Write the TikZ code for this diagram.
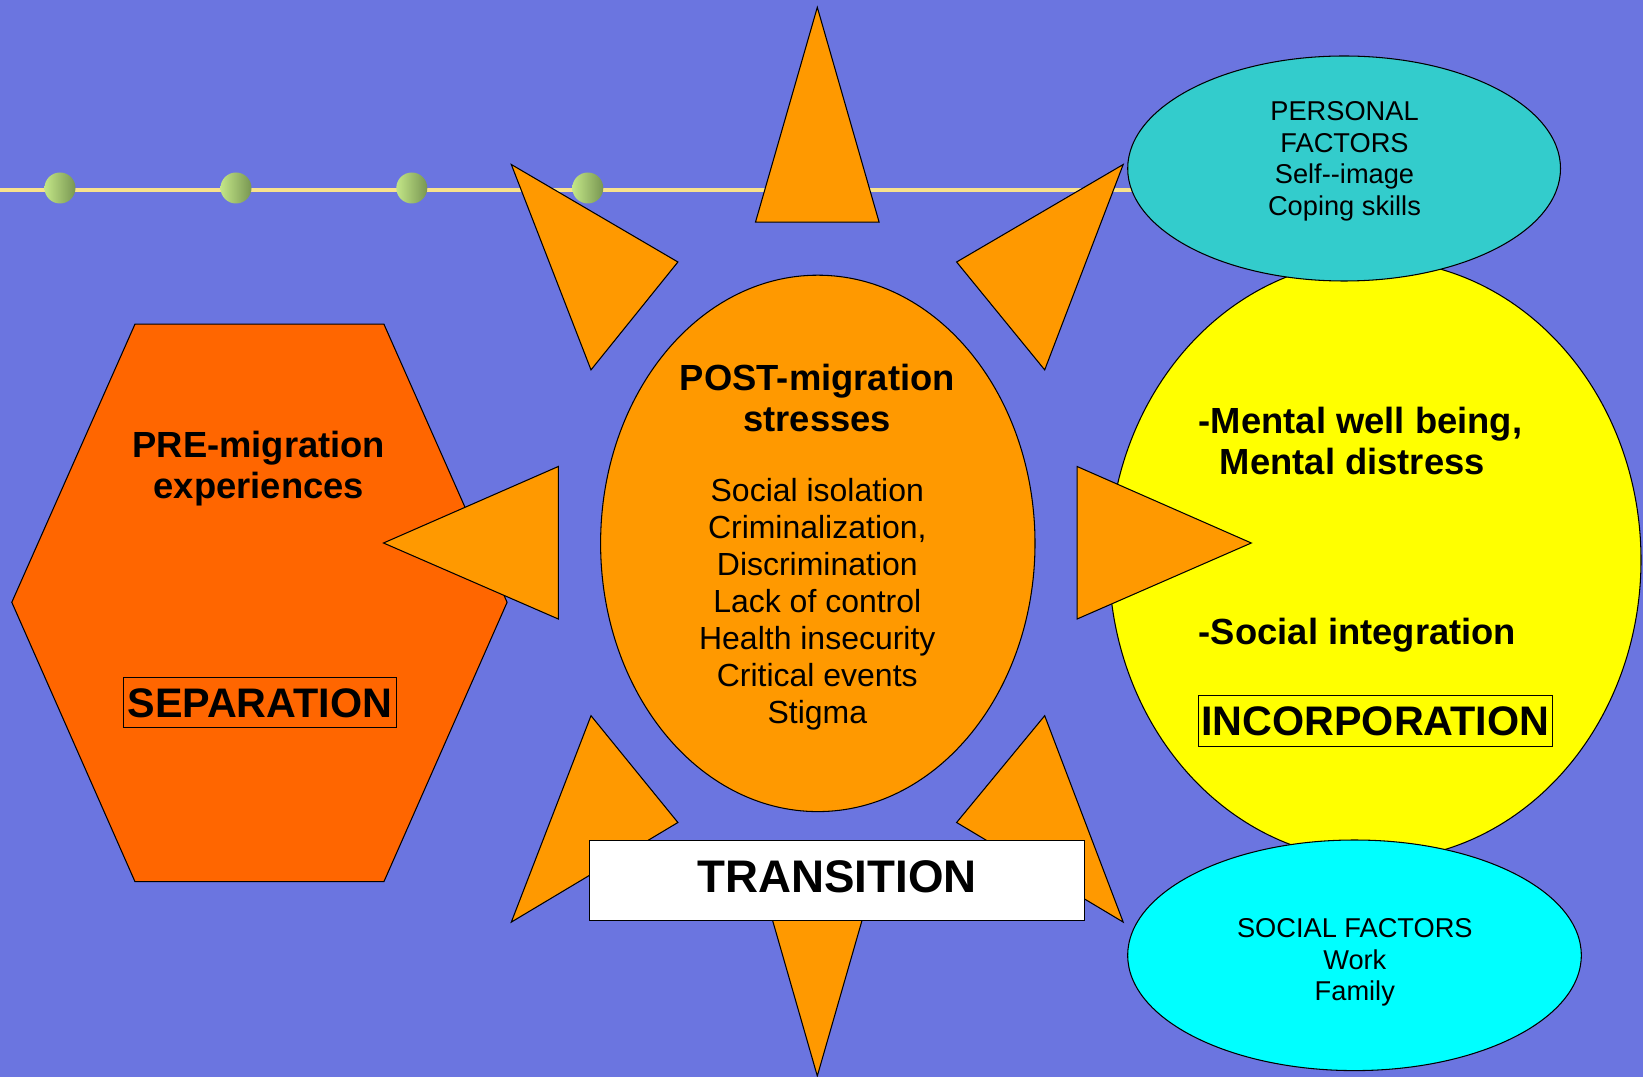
\documentclass[tikz,border=0pt]{standalone}
\usepackage{fontspec}
\setmainfont{Liberation Sans}
\usepackage{tikz}
\usetikzlibrary{positioning}
\definecolor{slide}{RGB}{107,117,224}
\definecolor{sun}{RGB}{255,153,0}
\definecolor{premig}{RGB}{255,102,0}
\definecolor{incorp}{RGB}{255,255,0}
\definecolor{personal}{RGB}{51,204,204}
\definecolor{socialc}{RGB}{0,255,255}
\definecolor{rail}{RGB}{248,226,140}
\definecolor{beadlight}{RGB}{195,230,135}
\definecolor{beaddark}{RGB}{120,150,82}
\tikzset{%
  outline/.style={draw=black, line width=0.6pt},
  ray/.style={outline, fill=sun},% sun rays round the stresses
  bead/.style={left color=beadlight, right color=beaddark},% dots on the rail
  heading/.style={font=\fontsize{20.7}{23.7}\selectfont\bfseries, align=center, inner sep=0pt, anchor=base},
  items/.style={font=\fontsize{18.2}{21.05}\selectfont, align=center, inner sep=0pt, anchor=base},
  factor/.style={font=\fontsize{15.5}{18}\selectfont, align=center, inner sep=0pt, anchor=base},
  stage/.style={outline, inner sep=0pt, text height=16.8pt, text depth=0pt,
    font=\fontsize{23.5}{28}\selectfont\bfseries}% stage name in a box
}

\begin{document}
\begin{tikzpicture}[x=0.02cm, y=-0.02cm]
\useasboundingbox (0,0) rectangle (1643,1077);
\fill[slide] (0,0) rectangle (1643,1077);

% rail with dots
\draw[rail, line width=2pt] (0,190) -- (1344,190);
\shade[bead] (60,188) circle (15.5);
\shade[bead] (236,188) circle (15.5);
\shade[bead] (411.8,188) circle (15.5);
\shade[bead] (587.8,188) circle (15.5);

% separation
\draw[outline, fill=premig] (135,324.1) -- (383.9,324.1) -- (507.1,602.3) -- (383.9,881.7)
  -- (135,881.7) -- (11.8,602.3) -- cycle;

% incorporation
\draw[outline, fill=incorp] (1375,560) ellipse [x radius=266, y radius=300];

% rays
\draw[ray] (817.3,7.3) -- (879.1,222.1) -- (755.5,222.1) -- cycle;
\draw[ray] (817.3,1076) -- (879.1,861) -- (755.5,861) -- cycle;
\draw[ray] (383.5,543) -- (558.3,466.5) -- (558.3,619) -- cycle;
\draw[ray] (1251.3,543) -- (1077.1,466.5) -- (1077.1,619) -- cycle;
\draw[ray] (511.3,164.5) -- (677.9,262) -- (591,369.9) -- cycle;
\draw[ray] (1123.2,164.5) -- (956.6,262) -- (1044.7,369.9) -- cycle;
\draw[ray] (511.3,922.1) -- (677.9,822.5) -- (591,715.7) -- cycle;
\draw[ray] (1123.2,922.1) -- (956.6,822.5) -- (1044.7,715.7) -- cycle;

% post-migration
\draw[outline, fill=sun] (817.8,543.4) ellipse [x radius=217.2, y radius=268.2];

% factors
\draw[outline, fill=personal] (1344.1,168.5) ellipse [x radius=216.4, y radius=112.5];
\draw[outline, fill=socialc] (1354.5,955.3) ellipse [x radius=226.8, y radius=115.3];

\node[heading] (pre) at (258.9,499) {PRE-migration\\experiences};
\node[stage, minimum width=5.464cm, minimum height=1.004cm] (separation) at (259.8,702.8) {SEPARATION};

\node[heading] (post) at (817.3,432) {POST-migration\\stresses};
\node[items] (stresses) at (817.3,723.5) {Social isolation\\Criminalization,\\Discrimination\\Lack of control\\Health insecurity\\Critical events\\Stigma};

\node[heading, align=left, anchor=base west] (wellbeing) at (1198.5,475) {-Mental well being,\\\hspace*{12pt}Mental distress};
\node[heading, anchor=base west] (integration) at (1198.5,644.2) {-Social integration};
\node[stage, minimum width=7.074cm, minimum height=1.018cm] (incorporation) at (1375.3,721.2) {INCORPORATION};

\node[factor] (personalf) at (1344.5,215.6) {PERSONAL\\FACTORS\\Self-{}-image\\Coping skills};
\node[factor] (socialf) at (1354.8,1000.7) {SOCIAL FACTORS\\Work\\Family};

\node[stage, fill=white, minimum width=9.892cm, minimum height=1.614cm, text height=18.6pt, text depth=4.9pt,
  font=\fontsize{26}{30}\selectfont\bfseries] (transition) at (837.2,880.6) {TRANSITION};
\end{tikzpicture}
\end{document}
